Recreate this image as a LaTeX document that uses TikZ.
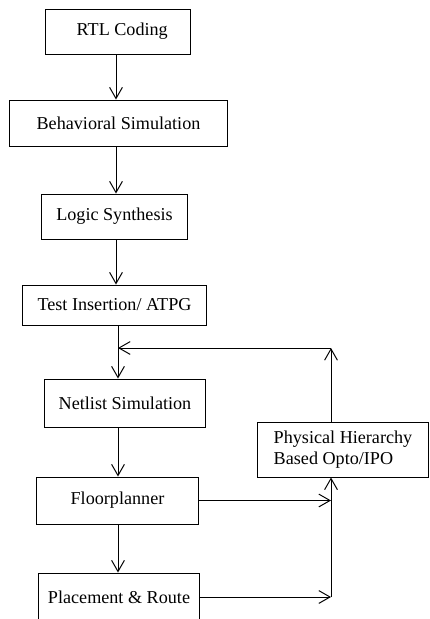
\documentclass[tikz,border=0pt]{standalone}
\usepackage{fontspec}
\setmainfont{Liberation Serif}
\usetikzlibrary{arrows.meta}

\begin{document}
\begin{tikzpicture}[x=0.025cm,y=-0.025cm,
    stage/.style={draw,line width=0.7pt,align=center,inner sep=0pt,
                  font=\fontsize{12.9}{15}\selectfont},
    arr/.style={-{Straight Barb[length=2.8mm,width=3.2mm]},line width=0.7pt}]
    \useasboundingbox (0,0) rectangle (429,619);
    \node[stage,minimum width=3.6cm,minimum height=1.125cm] (rtl) at (118,31.5) {\hspace*{6pt}RTL Coding};
    \node[stage,minimum width=5.425cm,minimum height=1.15cm] (beh) at (118.5,123) {Behavioral Simulation};
    \node[stage,minimum width=3.625cm,minimum height=1.125cm] (syn) at (114.5,216.5) {Logic Synthesis};
    \node[stage,minimum width=4.575cm,minimum height=1cm] (tst) at (114.5,305) {Test Insertion/ ATPG};
    \node[stage,minimum width=4cm,minimum height=1.2cm] (net) at (125,403) {Netlist Simulation};
    \node[stage,minimum width=4.025cm,minimum height=1.175cm] (flp) at (117.5,500.5) {Floorplanner};
    \node[stage,minimum width=4cm,minimum height=1.2cm] (par) at (119,597) {Placement \& Route};
    \node[stage,minimum width=4.25cm,minimum height=1.375cm,align=left] (phy) at (343,449.5)
        {Physical Hierarchy\\Based Opto/IPO};
    % spine of the flow and the loop back
    \coordinate (sp) at (116,0);
    \coordinate (lp) at (331,0);
    \coordinate (top) at (331,348);
    \coordinate (ret) at (118,348);
    \draw[arr] (sp |- rtl.south) -- (sp |- beh.north);
    \draw[arr] (sp |- beh.south) -- (sp |- syn.north);
    \draw[arr] (sp |- syn.south) -- (sp |- tst.north);
    \draw[arr] (ret |- tst.south) -- (ret |- net.north);
    \draw[arr] (ret |- net.south) -- (ret |- flp.north);
    \draw[arr] (ret |- flp.south) -- (ret |- par.north);
    \draw[arr] (flp.east) -- (flp.east -| lp);
    \draw[arr] (par.east) -- (par.east -| lp);
    \draw[line width=0.7pt] (par.east -| lp) -- (flp.east -| lp);
    \draw[arr] (flp.east -| lp) -- (lp |- phy.south);
    \draw[arr] (lp |- phy.north) -- (top);
    \draw[arr] (top) -- (ret);
  \end{tikzpicture}
\end{document}
